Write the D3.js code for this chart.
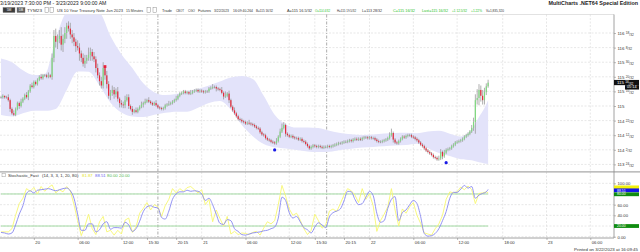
<!DOCTYPE html>
<html>
<head>
<meta charset="utf-8">
<script src="https://cdn.jsdelivr.net/npm/d3@7"></script>
<style>
  body { margin: 0; background: #fff; }
  svg { display: block; font-family: "Liberation Sans", Arial, sans-serif; }
</style>
</head>
<body>
<div id="chart"></div>
<script>
'use strict';
//prices are kept in 32nds above 113 (64 = 115, 80 = 115 16/32)
//one close per 15 minute bar, bar 0 = 3/19 19:30
const closes = [
    70,71,70,70,68,62,59,58,62,66,
    64,67,69,71.5,70,74,78,77,80.5,79,
    82,84,83,85,85,84,85,84,97,112,
    108,110,112,106,110,114,119,117,113,111,
    108,105,104,100,97,93,95,97,99,101,
    98,96,90,85,81,78,90,85,79,71,
    73,75,72,74,69,66,65,64.5,68,70,
    64,62,60,61,60,62,63.5,65,66,67,
    68,67,66,65,66,64.5,63,62.5,62,62.5,
    64.5,65,65.5,66,67,68,69,71,72.5,73,
    74,73,73.5,72.5,73,74,74.5,75,74,74.5,
    74,73.5,74,74,76,76.5,77,77,76,75.5,
    75,73,70.5,71,72.5,68,63.5,61,59,57,
    55,54.5,53.5,53,52,52.5,52,51.5,51,50,
    49,48.5,46,44.5,44,42,41,40.5,39.5,39,
    38.5,40,43,46.5,49,51,45,44,43,43.5,
    42.5,42,42,41,41.5,40,39.5,38,36.5,35,
    36,37,36.5,36,36.5,36,35.5,36,36,36.5,
    36,36.5,37,37.5,38,38.5,38.5,39,39.5,39.5,
    40,40.5,40,41,41.5,41,41.5,41,42,42.5,
    42.5,42,42.5,42,42,41,40,39.5,39.5,40,
    40.5,41,42,44,45.5,41,39,38.5,40,41.5,
    43,42.5,43.5,44,44,43,42.5,41.5,40.5,39,
    37.5,36.5,35,33.5,32.5,31.5,30.5,29,28.5,27.5,
    28,32.5,29.5,32,34,34.5,35,36.5,37.5,39,
    39.5,40,40.5,41.5,43,44,45,46.5,49,53,
    68,69.5,75,71,68,73.5,77.5,80
];
//wick length above the body and below it, in 32nds
const wickHi = [
    1,1,0,1,2,1,1,2,1,1, 1,2,1,1,2,1,1,2,1,1, 1,1,2,1,1,1,2,1,3,4,
    5,3,4,6,3,4,2,3,4,3, 3,2,4,3,2,3,4,2,5,3, 2,3,2,3,2,3,4,1,3,2,
    2,3,2,2,3,1,2,2,3,2, 2,1,2,1,2,1,1,2,1,2, 1,2,1,1,1,2,1,1,1,1,
    1,1,2,1,1,1,2,1,1,1, 1,1,1,1,2,1,1,1,1,1, 1,1,1,1,1,1,2,1,1,1,
    1,2,1,3,1,2,1,1,2,1, 1,1,1,1,1,1,2,1,1,1, 1,1,1,1,1,1,1,1,1,1,
    1,2,1,2,3,2,1,1,1,1, 1,1,1,1,1,1,1,1,1,1, 1,1,1,1,1,1,1,1,1,1,
    1,1,1,1,1,1,1,1,1,1, 1,1,1,1,1,1,1,1,1,1, 1,1,1,1,1,1,1,1,1,1,
    1,1,1,2,3,1,1,1,1,1, 1,1,1,1,1,1,1,1,1,1, 1,1,1,1,1,1,1,1,1,1,
    2,2,1,2,1,1,1,1,1,1, 1,1,1,1,1,1,1,1,2,3, 4,6,4,3,4,3,2,2
];
const wickLo = [
    1,1,1,1,1,2,1,1,1,1, 2,1,1,1,1,2,1,1,1,1, 1,1,1,1,1,1,1,1,2,3,
    4,5,3,4,5,3,4,2,3,4, 3,4,2,5,3,2,3,2,2,4, 3,2,3,2,3,2,2,3,3,2,
    3,2,3,2,2,3,2,2,2,1, 2,1,2,1,1,1,1,1,2,1, 1,1,1,1,1,1,1,1,1,1,
    1,1,1,1,1,1,1,1,1,1, 1,1,1,1,1,1,1,1,1,1, 1,1,1,1,1,1,1,1,2,1,
    1,1,2,1,1,2,1,1,1,1, 1,1,1,1,1,1,1,1,1,1, 1,1,1,1,1,1,1,1,1,1,
    1,1,1,1,1,1,2,1,1,1, 1,1,1,1,1,1,1,1,1,1, 1,1,1,1,1,1,1,1,1,1,
    1,1,1,1,1,1,1,1,1,1, 1,1,1,1,1,1,1,1,1,1, 1,1,1,1,1,1,1,1,1,1,
    1,1,1,1,1,2,1,1,1,1, 1,1,1,1,1,1,1,1,1,1, 1,1,1,1,1,1,1,1,1,1,
    1,1,2,1,1,1,1,1,1,1, 1,1,1,1,1,1,1,1,1,2, 8,3,5,4,3,3,2,1
];
//envelope band (upper / lower) read every few bars
const bandBars = [0,6,12,18,24,30,36,42,48,54,60,66,72,78,84,90,96,102,108,114,120,126,132,138,144,150,156,162,168,174,180,186,192,198,204,210,216,222,228,234,240,246,252,258,262,265,267];
const bandUp = [96.5,94,88.5,85.2,85.8,110,128,130,130,128,112,99.5,90,79.5,73.5,71.5,72.3,74,75.8,78,80.8,83.5,84.5,82.5,71,58,51.5,49.2,49.3,48.9,47,45.5,44.6,44.2,44.5,45.1,45.5,45.7,45.4,46.6,47,45,43.1,48,56.5,62.7,68];
const bandDn = [57.8,56.8,59,60.8,60.7,62,75,87.6,87.5,78,66.3,59.6,56.8,56.4,58,59.3,60.1,60.1,62.8,66,67.4,61.5,51,43.3,37.9,35.6,34.9,33.8,32.9,32.5,32.7,33.9,34.8,35.5,36,36.5,37,37.3,38.2,35,31.8,29.7,27.6,26.8,25.5,24.7,24.3];
//swing markers
const lowDotBars = [150, 244];
const lowDotPrices = [33.9, 25.2];
const highDotBars = [57];
const highDotPrices = [91];
//stochastic fast, one value every second bar, the last one is bar 267
const stochK = [
    9,9,9,15,40,62,72,90,85,92, 80,94,85,92,97,82,88,84,94,86,
    60,30,2,20,42,15,4,28,38,9, 12,3,12,5,31,35,8,18,44,53,
    64,50,60,56,38,58,70,90,82,90, 85,92,94,88,82,88,60,70,28,50,
    34,20,38,5,10,4,7,6,4,8, 10,3,16,28,24,30,60,96,76,52,
    40,44,31,15,4,12,42,30,16,22, 48,52,47,62,78,90,86,78,64,90,
    70,80,58,10,30,42,56,90,50,20, 52,44,56,64,40,25,7,5,3,15,
    24,40,70,84,82,84,93,88,95,88, 62,81,82,84,81.87
];
const stochD = [
    8,7,5,7,22,42,58,81,86,82, 87,88,89,90,88,86,88,90,91,86,
    72,42,12,12,24,24,9,13,24,28, 14,17,17,16,27,22,10,15,29,47,
    56,58,55,54,36,33,48,70,80,84, 84,87,85,86,85,80,68,72,60,42,
    25,23,32,30,15,10,4,3,5,7, 8,9,11,12,15,18,35,74,68,45,
    35,38,28,17,13,7,18,26,22,17, 37,45,48,52,67,85,84,70,60,62,
    74,85,77,44,27,30,53,70,75,30, 45,50,60,68,62,38,6,1,2,6,
    15,30,47,72,83,83,89,96,91,94, 72,78,81,84,88.51
];
const stochLevels = [80, 20];
//axis ticks
const priceTicks = [24, 34, 44, 54, 64, 74, 84, 94, 104, 114];
const stochTicks = [0, 20, 40, 60, 80, 100];
const timeSlots = [18, 42, 66, 80, 96, 110, 134, 158, 172, 188, 202, 226, 250, 275, 299, 323];
const timeLabels = ["20", "06:00", "12:00", "15:30", "20:15", "21", "06:00", "12:00", "15:30", "20:15", "22", "06:00", "12:00", "18:00", "23", "06:00"];
const sessionSlots = [86, 178.5];
const lastPrice = 80;

const width = 640;
const height = 252;
const plotRight = 614;
const mainTop = 14.5;
const mainBottom = 171;
const stochTop = 172.5;
const stochBottom = 238;

//bar slots run on to 3/23 09:00 at the right edge
const x = d3.scaleLinear().domain([0, 336]).range([1, plotRight]);
const y = d3.scaleLinear().domain([24, 114]).range([164.4, 33]);
const ys = d3.scaleLinear().domain([0, 100]).range([236.7, 183.3]);

const green = "#1fc21f";

const svg = d3.select("#chart").append("svg")
    .attr("width", width)
    .attr("height", height);

svg.append("defs").append("clipPath").attr("id", "clipMain")
    .append("rect").attr("x", 0).attr("y", mainTop).attr("width", plotRight).attr("height", mainBottom - mainTop);
svg.select("defs").append("clipPath").attr("id", "clipStoch")
    .append("rect").attr("x", 0).attr("y", stochTop).attr("width", plotRight).attr("height", stochBottom - stochTop);

//split a price in 32nds into whole and fraction parts
function split32(v) {
    const whole = 113 + Math.floor(v / 32);
    const frac = v - Math.floor(v / 32) * 32;
    return [whole, frac];
}
function writePrice(textSel, v, small) {
    const p = split32(v);
    textSel.text(null);
    textSel.append("tspan").text(p[0] + (p[1] ? " " : ""));
    if (p[1]) {
        textSel.append("tspan").attr("font-size", small).attr("dy", -1).text(p[1]);
        textSel.append("tspan").attr("font-size", small).attr("dy", 1.6).text("/32");
    }
}

//---- top title lines
svg.append("text")
    .attr("x", 0).attr("y", 5.2)
    .attr("font-size", 5.2).attr("fill", "#222")
    .text("3/19/2023 7:30:00 PM - 3/23/2023 9:00:00 AM");
svg.append("text")
    .attr("x", 638).attr("y", 5.4)
    .attr("text-anchor", "end")
    .attr("font-size", 5.4).attr("font-weight", "bold").attr("fill", "#222")
    .text("MultiCharts .NET64 Special Edition");

//toolbar buttons
const boxes = [
    {x: 3, w: 12, fill: "#3c3c3c"},
    {x: 17, w: 8, fill: "#5a5a5a"},
    {x: 45, w: 3.5, fill: "#fff"},
    {x: 50, w: 3.5, fill: "#fff"},
    {x: 147, w: 3.5, fill: "#fff"},
    {x: 153, w: 3.5, fill: "#fff"}
];
svg.append("g").selectAll("rect").data(boxes).join("rect")
    .attr("x", d => d.x).attr("y", 7.5)
    .attr("width", d => d.w).attr("height", 5)
    .attr("fill", d => d.fill)
    .attr("stroke", "#777").attr("stroke-width", 0.4);
svg.append("text").attr("x", 9).attr("y", 11.3).attr("text-anchor", "middle")
    .attr("font-size", 3.4).attr("fill", "#fff").text("5M");
svg.append("text").attr("x", 21).attr("y", 11.3).attr("text-anchor", "middle")
    .attr("font-size", 3.4).attr("fill", "#fff").text("DB");

const toolbar = [
    {x: 27, w: 15, t: "TYM23"},
    {x: 57, w: 66, t: "US 10 Year Treasury Note Jun 2023"},
    {x: 126, w: 17, t: "15 Minutes"},
    {x: 162, w: 10, t: "Trade"},
    {x: 176, w: 8, t: "CBOT"},
    {x: 188, w: 7, t: "CGO"},
    {x: 198, w: 13, t: "Futures"},
    {x: 214, w: 15, t: "3/22/2023"},
    {x: 233, w: 20, t: "16:09:40.264"},
    {x: 256, w: 17, t: "B=115 16/32"},
    {x: 287, w: 25, t: "A=115 16.5/32"},
    {x: 315, w: 15, t: "O=114 4/32", c: green},
    {x: 337, w: 19, t: "H=115 19.5/32"},
    {x: 362, w: 20, t: "L=113 28/32"},
    {x: 393, w: 22, t: "C=115 16/32", c: green},
    {x: 422, w: 26, t: "Last=115 16/32", c: green},
    {x: 452, w: 15, t: "+1 12.5/32", c: green},
    {x: 471, w: 11, t: "+1.22%", c: green},
    {x: 486, w: 18, t: "V=1,835,320"}
];
svg.append("g").selectAll("text").data(toolbar).join("text")
    .attr("x", d => d.x).attr("y", 11.6)
    .attr("font-size", 4)
    .attr("fill", d => d.c || "#333")
    .attr("textLength", d => d.w)
    .attr("lengthAdjust", "spacingAndGlyphs")
    .text(d => d.t);

//---- grids
svg.append("line")
    .attr("x1", 0).attr("x2", plotRight).attr("y1", mainTop).attr("y2", mainTop)
    .attr("stroke", "#cfcfcf").attr("stroke-width", 0.6);

const grid = svg.append("g")
    .attr("stroke", "#d6d6d6").attr("stroke-width", 0.6).attr("stroke-dasharray", "2,1.5");
grid.selectAll(".hp").data(priceTicks).join("line")
    .attr("x1", 0).attr("x2", plotRight)
    .attr("y1", d => y(d)).attr("y2", d => y(d));
grid.selectAll(".hs").data(stochTicks).join("line")
    .attr("x1", 0).attr("x2", plotRight)
    .attr("y1", d => ys(d)).attr("y2", d => ys(d));
grid.selectAll(".v").data(timeSlots).join("line")
    .attr("x1", d => x(d)).attr("x2", d => x(d))
    .attr("y1", mainTop).attr("y2", stochBottom);

svg.append("g").selectAll("line").data(sessionSlots).join("line")
    .attr("x1", d => x(d)).attr("x2", d => x(d))
    .attr("y1", mainTop).attr("y2", stochBottom)
    .attr("stroke", "#8a8a8a").attr("stroke-width", 0.7)
    .attr("stroke-dasharray", "3,1.5,1,1.5");

//---- price panel
const main = svg.append("g").attr("clip-path", "url(#clipMain)");

const band = d3.area()
    .x((d, i) => x(bandBars[i]))
    .y0((d, i) => y(bandDn[i]))
    .y1((d, i) => y(bandUp[i]))
    .curve(d3.curveMonotoneX);
main.append("path")
    .datum(bandBars)
    .attr("d", band)
    .attr("fill", "#e3e3fa");

const bars = closes.map(function(c, i) {
    //each bar opens where the previous one closed
    const o = i ? closes[i - 1] : c;
    return {
        i: i,
        o: o,
        c: c,
        h: Math.max(o, c) + wickHi[i],
        l: Math.min(o, c) - wickLo[i]
    };
});
main.append("g").selectAll("line").data(bars).join("line")
    .attr("x1", d => x(d.i)).attr("x2", d => x(d.i))
    .attr("y1", d => y(d.h)).attr("y2", d => y(d.l))
    .attr("stroke", "#9a9a9a").attr("stroke-width", 0.8);
main.append("g").selectAll("rect").data(bars).join("rect")
    .attr("x", d => x(d.i) - 0.6)
    .attr("width", 1.2)
    .attr("y", d => y(Math.max(d.o, d.c)))
    .attr("height", d => Math.max(0.8, Math.abs(y(d.o) - y(d.c))))
    .attr("fill", d => d.c > d.o ? "#7fda7f" : (d.c < d.o ? "#e6283a" : "#9a9a9a"));

main.append("g").selectAll("circle").data(lowDotBars).join("circle")
    .attr("cx", d => x(d))
    .attr("cy", (d, i) => y(lowDotPrices[i]))
    .attr("r", 1.6)
    .attr("fill", "#1a1ae6");
main.append("g").selectAll("rect").data(highDotBars).join("rect")
    .attr("x", d => x(d) - 1.4)
    .attr("y", (d, i) => y(highDotPrices[i]) - 1.4)
    .attr("width", 2.8).attr("height", 2.8)
    .attr("fill", "#e8203a");

//---- stochastic panel
const stoch = svg.append("g").attr("clip-path", "url(#clipStoch)");
const lastBar = closes.length - 1;
const sBars = stochK.map((d, i) => Math.min(i * 2, lastBar));

stoch.append("g").selectAll("line").data(stochLevels).join("line")
    .attr("x1", x(0)).attr("x2", x(lastBar))
    .attr("y1", d => ys(d)).attr("y2", d => ys(d))
    .attr("stroke", "#a3daa3").attr("stroke-width", 1);

const lineK = d3.line().x((d, i) => x(sBars[i])).y(d => ys(d));
stoch.append("path").datum(stochK)
    .attr("d", lineK)
    .attr("fill", "none").attr("stroke", "#f7f772").attr("stroke-width", 0.9);
stoch.append("path").datum(stochD)
    .attr("d", lineK.curve(d3.curveMonotoneX))
    .attr("fill", "none").attr("stroke", "#8888f0").attr("stroke-width", 0.9);

//stochastic header
svg.append("rect").attr("x", 2).attr("y", 173.6).attr("width", 3.2).attr("height", 3.2)
    .attr("fill", "#fff").attr("stroke", "#888").attr("stroke-width", 0.4);
const header = [
    {x: 8, t: "Stochastic_Fast", c: "#333"},
    {x: 42, t: "(14, 3, 3, 1, 20, 80)", c: "#333"},
    {x: 82, t: "81.87", c: "#e6e62a"},
    {x: 95, t: "88.51", c: "#6666ee"},
    {x: 107, t: "80.00", c: "#55b855"},
    {x: 119, t: "20.00", c: "#55b855"}
];
svg.append("g").selectAll("text").data(header).join("text")
    .attr("x", d => d.x).attr("y", 176.8)
    .attr("font-size", 4.3)
    .attr("fill", d => d.c)
    .text(d => d.t);

//---- panel frames
svg.append("line")
    .attr("x1", 0).attr("x2", width).attr("y1", 171.8).attr("y2", 171.8)
    .attr("stroke", "#a8a8a8").attr("stroke-width", 1.2);

//---- axes
const priceAxis = svg.append("g")
    .attr("transform", "translate(" + plotRight + ",0)")
    .call(d3.axisRight(y).tickValues(priceTicks).tickSize(2).tickPadding(1.5));
priceAxis.select(".domain").remove();
priceAxis.selectAll("line").attr("stroke", "#777").attr("stroke-width", 0.5);
priceAxis.selectAll("text")
    .attr("font-size", 4.4).attr("fill", "#333").attr("dy", "0.35em")
    .each(function(d) { writePrice(d3.select(this), d, 3.2); });

//80 and 20 sit under the level flags, so only their ticks are drawn
const stochAxis = svg.append("g")
    .attr("transform", "translate(" + plotRight + ",0)")
    .call(d3.axisRight(ys).tickValues(stochTicks).tickSize(2).tickPadding(1.5)
        .tickFormat(d => stochLevels.includes(d) ? "" : d3.format(".2f")(d)));
stochAxis.select(".domain").remove();
stochAxis.selectAll("line").attr("stroke", "#777").attr("stroke-width", 0.5);
stochAxis.selectAll("text").attr("font-size", 4.2).attr("fill", "#333").attr("dy", "0.35em");

const timeAxis = svg.append("g")
    .attr("transform", "translate(0," + stochBottom + ")")
    .call(d3.axisBottom(x).tickValues(timeSlots).tickSize(2)
        .tickFormat((d, i) => timeLabels[i]));
timeAxis.select(".domain").remove();
timeAxis.selectAll("line").attr("stroke", "#777").attr("stroke-width", 0.5);
timeAxis.selectAll("text")
    .attr("font-size", 4.2).attr("fill", "#333")
    .attr("text-anchor", "start").attr("x", 1).attr("y", 3).attr("dy", "0.71em");

svg.append("line")
    .attr("x1", 0).attr("x2", plotRight).attr("y1", stochBottom).attr("y2", stochBottom)
    .attr("stroke", "#8c8c8c").attr("stroke-width", 0.8);
svg.append("line")
    .attr("x1", plotRight).attr("x2", plotRight).attr("y1", mainTop).attr("y2", stochBottom)
    .attr("stroke", "#8c8c8c").attr("stroke-width", 0.8);

//---- value flags on the right axis
const lastFlag = svg.append("g");
lastFlag.append("rect")
    .attr("x", plotRight).attr("y", y(lastPrice) - 2.7)
    .attr("width", 25).attr("height", 5.2).attr("fill", "#111");
writePrice(lastFlag.append("text")
    .attr("x", plotRight + 3).attr("y", y(lastPrice) + 1.5)
    .attr("font-size", 4.4).attr("fill", "#fff"), lastPrice, 3.2);
lastFlag.append("rect")
    .attr("x", 625).attr("y", y(lastPrice) + 2.5)
    .attr("width", 14).attr("height", 4.4).attr("fill", "#111");
lastFlag.append("text")
    .attr("x", 627).attr("y", y(lastPrice) + 5.8)
    .attr("font-size", 3.8).attr("fill", "#fff").text("05:14");

//the %K flag is stacked behind the %D flag, only a strip of it shows
const kFlagValue = 81.87;
svg.append("rect")
    .attr("x", plotRight).attr("y", ys(kFlagValue) - 7.5)
    .attr("width", 25).attr("height", 3.6)
    .attr("fill", "#f2f20c");
const flags = [
    {v: 88.51, dy: 0.9, fill: "#1515e8", tc: "#fff"},
    {v: 80, dy: 0.3, fill: "#0f8c0f", tc: "#fff"},
    {v: 20, dy: 0, fill: "#0f8c0f", tc: "#fff"}
];
const flagG = svg.append("g").selectAll("g").data(flags).join("g")
    .attr("transform", d => "translate(" + plotRight + "," + (ys(d.v) + d.dy) + ")");
flagG.append("rect")
    .attr("x", 0).attr("y", -1.9).attr("width", 25).attr("height", 3.8)
    .attr("fill", d => d.fill);
flagG.append("text")
    .attr("x", 3).attr("y", 1.2)
    .attr("font-size", 3.5).attr("fill", d => d.tc)
    .text(d => d.v.toFixed(2));

//---- footer
svg.append("text")
    .attr("x", 638).attr("y", 250.5)
    .attr("text-anchor", "end")
    .attr("font-size", 4.4).attr("fill", "#333")
    .text("Printed on 3/22/2023 at 16:09:45");
</script>
</body>
</html>
